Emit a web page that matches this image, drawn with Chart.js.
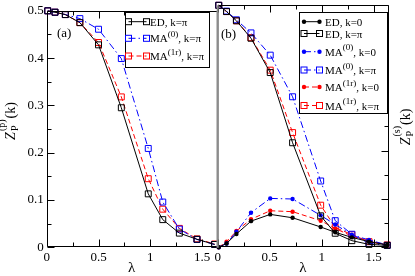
<!DOCTYPE html>
<html><head><meta charset="utf-8">
<script src="https://cdn.jsdelivr.net/npm/chart.js@4"></script>
<style>
html,body{margin:0;padding:0;background:#fff;}
#wrap{position:relative;width:415px;height:276px;background:#fff;}
canvas{position:absolute;left:0;top:0;}
</style></head><body>
<div id="wrap"><canvas id="ca" width="415" height="276"></canvas><canvas id="cb" width="415" height="276"></canvas></div>
<script>
// ---------- data ----------
const lambdaA = [0.01, 0.08, 0.18, 0.32, 0.5, 0.72, 0.98, 1.12, 1.28, 1.45, 1.62];
const edPiA   = [0.5, 0.497, 0.492, 0.475, 0.428, 0.295, 0.113, 0.0585, 0.030, 0.017, 0.006];
const ma0PiA  = [0.5, 0.497, 0.492, 0.4835, 0.461, 0.399, 0.209, 0.0957, 0.0385, 0.0165, 0.006];
const ma1PiA  = [0.5, 0.497, 0.492, 0.475, 0.433, 0.318, 0.145, 0.0806, 0.040, 0.0178, 0.007];

const lambdaB = [0.01, 0.085, 0.18, 0.32, 0.505, 0.72, 0.99, 1.13, 1.29, 1.455, 1.63];
const edZeroB = [0, 0.008, 0.0275, 0.054, 0.068, 0.061, 0.042, 0.031, 0.0205, 0.0116, 0.005];
const edPiB   = [0.5, 0.487, 0.468, 0.432, 0.361, 0.216, 0.065, 0.029, 0.0137, 0.006, 0.004];
const ma0ZeroB= [0, 0.008, 0.032, 0.0715, 0.101, 0.0998, 0.066, 0.047, 0.026, 0.015, 0.005];
const ma0PiB  = [0.5, 0.488, 0.470, 0.443, 0.397, 0.311, 0.137, 0.055, 0.027, 0.008, 0.004];
const ma1ZeroB= [0, 0.0116, 0.0337, 0.058, 0.0755, 0.0736, 0.055, 0.039, 0.023, 0.013, 0.005];
const ma1PiB  = [0.5, 0.487, 0.468, 0.433, 0.366, 0.237, 0.087, 0.041, 0.026, 0.0116, 0.005];

const xTicks = [0, 0.5, 1, 1.5];
const xTickLabels = ['0', '0.5', '1', '1.5'];
const xMinor = [0.25, 0.75, 1.25];
const yTicks = [0, 0.1, 0.2, 0.3, 0.4, 0.5];
const yTickLabels = ['0', '0.1', '0.2', '0.3', '0.4', '0.5'];
const yMinor = [0.05, 0.15, 0.25, 0.35, 0.45];

// ---------- styles ----------
const SERIF = '"Liberation Serif", "Times New Roman", serif';
const BLACK = '#000000', BLUE = '#0000ff', RED = '#ff0000';
const DASH_DOT = [7, 3, 1.5, 3], DASH = [5, 3];

function pts(xs, ys) { return xs.map((x, i) => ({x: x, y: ys[i]})); }
function sq(label, xs, ys, color, dash) {
  return {label, data: pts(xs, ys), showLine: true, borderColor: color, borderWidth: 1,
    borderDash: dash, pointStyle: 'rect', pointRadius: 4.2, pointHoverRadius: 4.2,
    pointBorderColor: color, pointBackgroundColor: 'rgba(0,0,0,0)', pointBorderWidth: 1,
    clip: false, tension: 0};
}
function dot(label, xs, ys, color, dash) {
  return {label, data: pts(xs, ys), showLine: true, borderColor: color, borderWidth: 1,
    borderDash: dash, pointStyle: 'circle', pointRadius: 2.2, pointHoverRadius: 2.2,
    pointBorderColor: color, pointBackgroundColor: color, pointBorderWidth: 0,
    clip: false, tension: 0};
}

function drawRich(ctx, parts, x, base, size, supSize) {
  parts.forEach(([t, k]) => {
    if (k === 'sup') { ctx.font = supSize + 'px ' + SERIF; ctx.fillText(t, x, base - size * 0.5); }
    else { ctx.font = size + 'px ' + SERIF; ctx.fillText(t, x, base); }
    x += ctx.measureText(t).width;
  });
}

function drawLegend(ctx, box, items, sx0, sx1, tx) {
  ctx.save();
  ctx.fillStyle = '#fff'; ctx.fillRect(box.x, box.y, box.w, box.h);
  ctx.strokeStyle = '#000'; ctx.lineWidth = 1; ctx.setLineDash([]);
  ctx.strokeRect(Math.round(box.x) + 0.5, Math.round(box.y) + 0.5, Math.round(box.w), Math.round(box.h));
  items.forEach(it => {
    const y = it.y;
    ctx.strokeStyle = it.color; ctx.lineWidth = 1;
    ctx.setLineDash(it.dash || []);
    ctx.beginPath(); ctx.moveTo(sx0, y); ctx.lineTo(sx1, y); ctx.stroke();
    ctx.setLineDash([]);
    [sx0, sx1].forEach(x => {
      if (it.marker === 'sq') { ctx.strokeRect(x - 3, y - 3, 6, 6); }
      else { ctx.fillStyle = it.color; ctx.beginPath(); ctx.arc(x, y, 2.2, 0, 2 * Math.PI); ctx.fill(); }
    });
    ctx.fillStyle = '#000'; ctx.textBaseline = 'alphabetic'; ctx.textAlign = 'left';
    drawRich(ctx, it.parts, tx, y + 4, 11, 9);
  });
  ctx.restore();
}

function drawZLabel(ctx, cx, cy, supTxt) {
  ctx.save();
  ctx.translate(cx, cy); ctx.rotate(-Math.PI / 2);
  ctx.fillStyle = '#000'; ctx.textBaseline = 'alphabetic'; ctx.textAlign = 'left';
  const fZ = 'italic 14px ' + SERIF, fS = '10px ' + SERIF, fK = '14px ' + SERIF;
  ctx.font = fZ; const wZ = ctx.measureText('Z').width;
  ctx.font = fS; const wP = ctx.measureText('P').width, wS = ctx.measureText(supTxt).width;
  ctx.font = fK; const wK = ctx.measureText('(k)').width;
  const total = wZ + 1 + Math.max(wP, wS) + 1 + wK;
  let x = -total / 2; const base = 5;
  ctx.font = fZ; ctx.fillText('Z', x, base); x += wZ + 1;
  ctx.font = fS; ctx.fillText('P', x, base + 3); ctx.fillText(supTxt, x, base - 10);
  x += Math.max(wP, wS) + 1;
  ctx.font = fK; ctx.fillText('(k)', x, base);
  ctx.restore();
}

function frameTicks(chart, side) {
  const ctx = chart.ctx, a = chart.chartArea, xs = chart.scales.x, ys = chart.scales.y;
  const L = Math.round(a.left) + 0.5, R = Math.round(a.right) - 0.5, T = Math.round(a.top) + 0.5, B = Math.round(a.bottom) - 0.5;
  ctx.save();
  ctx.strokeStyle = '#000'; ctx.lineWidth = 1; ctx.setLineDash([]);
  ctx.beginPath();
  ctx.moveTo(L, T); ctx.lineTo(R, T);
  ctx.moveTo(L, B); ctx.lineTo(R, B);
  if (side === 'a') { ctx.moveTo(L, T); ctx.lineTo(L, B); }
  else { ctx.moveTo(R, T); ctx.lineTo(R, B); }
  xTicks.forEach(v => { const p = Math.round(xs.getPixelForValue(v)) + 0.5;
    ctx.moveTo(p, B); ctx.lineTo(p, B - 7); ctx.moveTo(p, T); ctx.lineTo(p, T + 7); });
  xMinor.forEach(v => { const p = Math.round(xs.getPixelForValue(v)) + 0.5;
    ctx.moveTo(p, B); ctx.lineTo(p, B - 4); ctx.moveTo(p, T); ctx.lineTo(p, T + 4); });
  const yx = side === 'a' ? L : R, dir = side === 'a' ? 1 : -1;
  yTicks.forEach(v => { const p = Math.round(ys.getPixelForValue(v)) + 0.5;
    ctx.moveTo(yx, p); ctx.lineTo(yx + dir * 7, p); });
  yMinor.forEach(v => { const p = Math.round(ys.getPixelForValue(v)) + 0.5;
    ctx.moveTo(yx, p); ctx.lineTo(yx + dir * 4, p); });
  ctx.stroke();
  ctx.strokeStyle = '#8c8c8c'; ctx.lineWidth = 2;
  const dx = side === 'a' ? a.right : a.left;
  ctx.beginPath(); ctx.moveTo(dx, a.top); ctx.lineTo(dx, a.bottom + 0.5); ctx.stroke();
  ctx.restore();
}

function baseOptions(padL, padR, showY) {
  return {
    responsive: false, animation: false, devicePixelRatio: 1,
    layout: {padding: {left: padL, right: padR, top: 5.3, bottom: 0}},
    plugins: {legend: {display: false}, tooltip: {enabled: false}},
    scales: {
      x: {type: 'linear', min: 0, max: 1.65,
        afterBuildTicks: s => { s.ticks = xTicks.map(v => ({value: v})); },
        afterFit: s => { s.height = 28.7; },
        grid: {display: false, drawTicks: false}, border: {display: false},
        ticks: {padding: 2, color: '#000', font: {family: SERIF, size: 13},
          callback: (v, i) => xTickLabels[i], maxRotation: 0, autoSkip: false}},
      y: {type: 'linear', min: 0, max: 0.5, display: showY,
        afterBuildTicks: s => { s.ticks = yTicks.map(v => ({value: v})); },
        afterFit: s => { s.width = showY ? 46.7 : 0; },
        grid: {display: false, drawTicks: false}, border: {display: false},
        ticks: {padding: 3, color: '#000', font: {family: SERIF, size: 13},
          callback: (v, i) => yTickLabels[i], autoSkip: false}}
    }
  };
}

// ---------- panel (a) ----------
const optA = baseOptions(0, 415 - 217.7, true);
new Chart(document.getElementById('ca'), {
  type: 'scatter',
  data: {datasets: [
    sq('ED, k=π', lambdaA, edPiA, BLACK, []),
    sq('MA(0), k=π', lambdaA, ma0PiA, BLUE, DASH_DOT),
    sq('MA(1r), k=π', lambdaA, ma1PiA, RED, DASH)
  ]},
  options: optA,
  plugins: [{id: 'decoA', afterDatasetsDraw(chart) {
    const ctx = chart.ctx, a = chart.chartArea;
    frameTicks(chart, 'a');
    drawLegend(ctx, {x: 125, y: 12, w: 84, h: 55}, [
      {y: 21.7, color: BLACK, dash: [], marker: 'sq', parts: [['ED, k=π', 'n']]},
      {y: 38.3, color: BLUE, dash: DASH_DOT, marker: 'sq', parts: [['MA', 'n'], ['(0)', 'sup'], [', k=π', 'n']]},
      {y: 56, color: RED, dash: DASH, marker: 'sq', parts: [['MA', 'n'], ['(1r)', 'sup'], [', k=π', 'n']]}
    ], 128.5, 146.5, 150);
    ctx.save(); ctx.fillStyle = '#000'; ctx.font = '13px ' + SERIF; ctx.textBaseline = 'middle'; ctx.textAlign = 'left';
    ctx.fillText('(a)', 57, 34);
    ctx.font = '15px ' + SERIF; ctx.textAlign = 'center';
    ctx.fillText('λ', (a.left + a.right) / 2 - 0.5, 268.5);
    ctx.restore();
    drawZLabel(ctx, 10, 121, '(p)');
  }}]
});

// ---------- panel (b) ----------
const optB = baseOptions(217.7, 415 - 389.3, false);
new Chart(document.getElementById('cb'), {
  type: 'scatter',
  data: {datasets: [
    dot('ED, k=0', lambdaB, edZeroB, BLACK, []),
    sq('ED, k=π', lambdaB, edPiB, BLACK, []),
    dot('MA(0), k=0', lambdaB, ma0ZeroB, BLUE, DASH_DOT),
    sq('MA(0), k=π', lambdaB, ma0PiB, BLUE, DASH_DOT),
    dot('MA(1r), k=0', lambdaB, ma1ZeroB, RED, DASH),
    sq('MA(1r), k=π', lambdaB, ma1PiB, RED, DASH)
  ]},
  options: optB,
  plugins: [{id: 'decoB', afterDatasetsDraw(chart) {
    const ctx = chart.ctx, a = chart.chartArea;
    frameTicks(chart, 'b');
    drawLegend(ctx, {x: 299, y: 12, w: 88, h: 101}, [
      {y: 21.7, color: BLACK, dash: [], marker: 'dot', parts: [['ED, k=0', 'n']]},
      {y: 33.5, color: BLACK, dash: [], marker: 'sq', parts: [['ED, k=π', 'n']]},
      {y: 51.7, color: BLUE, dash: DASH_DOT, marker: 'dot', parts: [['MA', 'n'], ['(0)', 'sup'], [', k=0', 'n']]},
      {y: 70, color: BLUE, dash: DASH_DOT, marker: 'sq', parts: [['MA', 'n'], ['(0)', 'sup'], [', k=π', 'n']]},
      {y: 87, color: RED, dash: DASH, marker: 'dot', parts: [['MA', 'n'], ['(1r)', 'sup'], [', k=0', 'n']]},
      {y: 105.5, color: RED, dash: DASH, marker: 'sq', parts: [['MA', 'n'], ['(1r)', 'sup'], [', k=π', 'n']]}
    ], 304, 319.5, 325);
    ctx.save(); ctx.fillStyle = '#000'; ctx.font = '13px ' + SERIF; ctx.textBaseline = 'middle'; ctx.textAlign = 'left';
    ctx.fillText('(b)', 221, 35);
    ctx.font = '15px ' + SERIF; ctx.textAlign = 'center';
    ctx.fillText('λ', (a.left + a.right) / 2 - 0.5, 268.5);
    ctx.restore();
    drawZLabel(ctx, 405, 127, '(s)');
  }}]
});
</script>
</body></html>
